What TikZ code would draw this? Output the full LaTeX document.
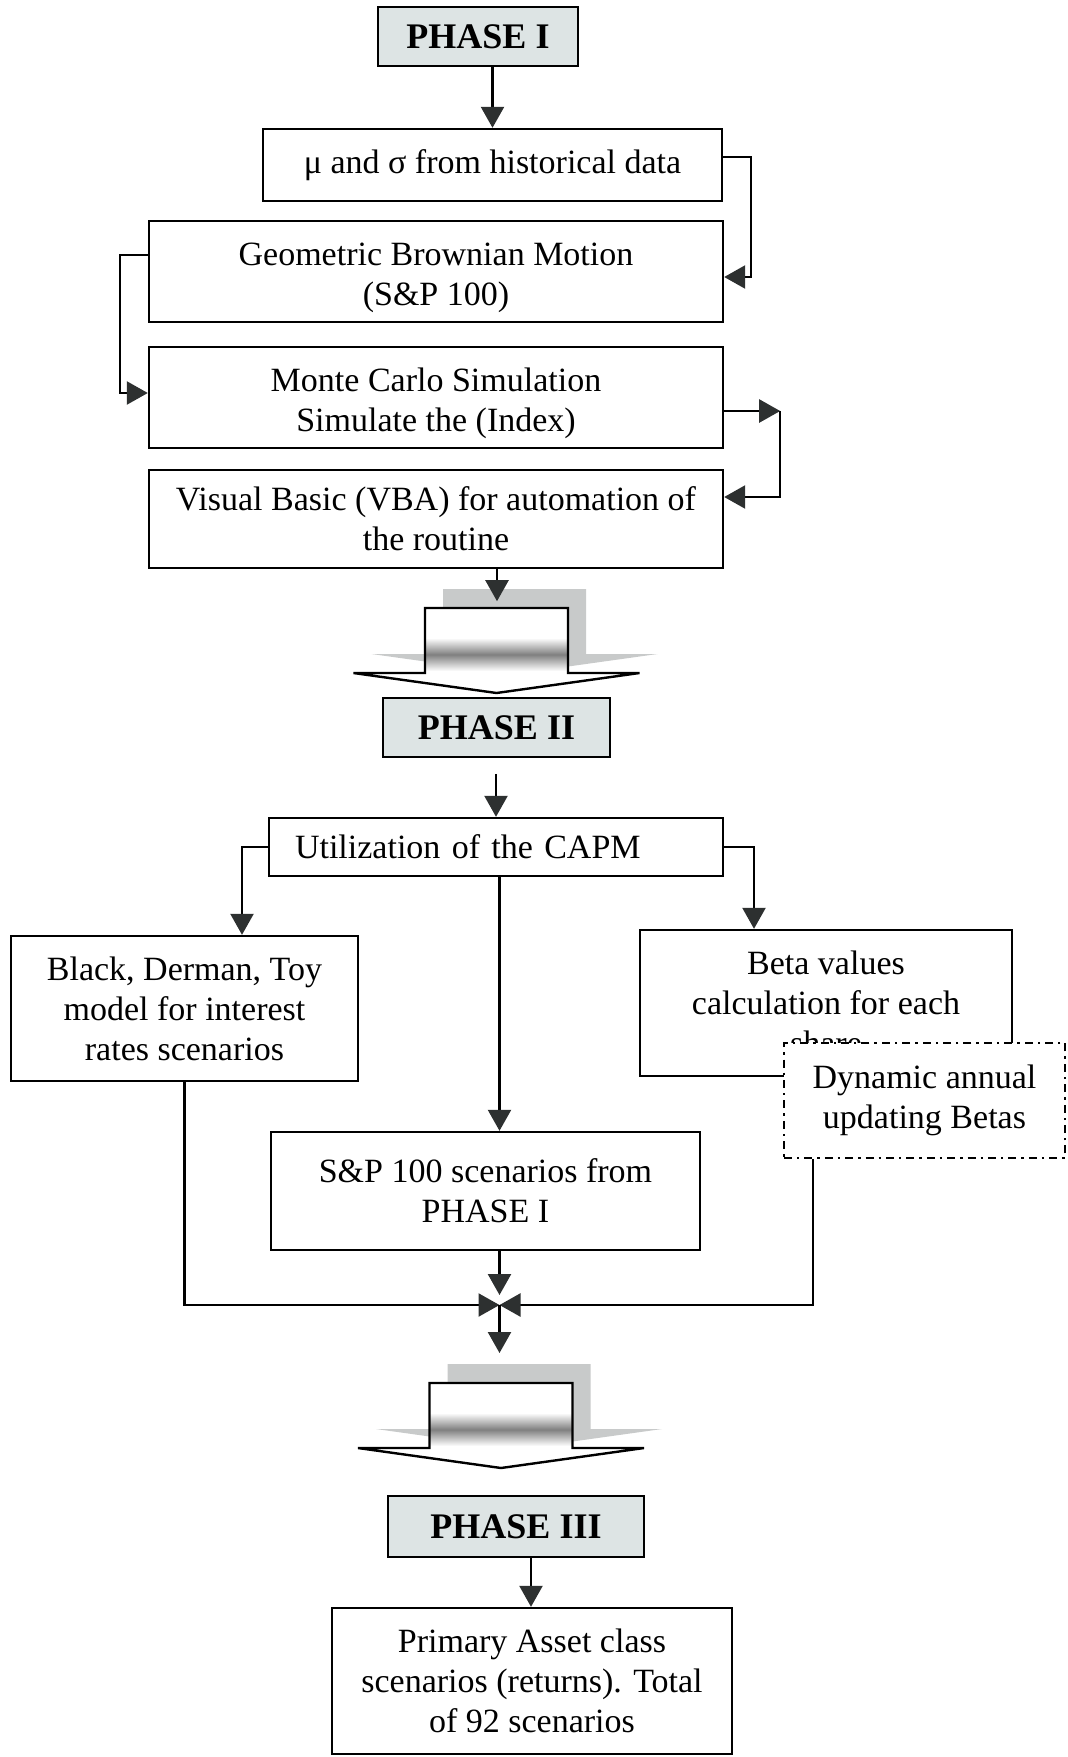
\documentclass[tikz,border=0pt]{standalone}
\usepackage{fontspec}
\setmainfont{Liberation Serif}
\usetikzlibrary{arrows.meta,calc}
\definecolor{phasefill}{RGB}{221,228,228}
\definecolor{shadowgray}{RGB}{200,202,202}
\definecolor{headgray}{RGB}{45,48,48}
% lowers a line of text inside its box without changing the box size
\newcommand{\lowerln}[1]{\raisebox{-3pt}[\height][\depth]{#1}}
\tikzset{
  % wide block arrow with an offset drop shadow, placed by the centre of its top edge
  blockarrow/.pic={
    \fill[shadowgray] (-53.5,-19) -- (89.5,-19) -- (89.5,46) -- (161,46) -- (18,66) -- (-125,46) -- (-53.5,46) -- cycle;
    \fill[white] (-71.5,0) -- (71.5,0) -- (71.5,65) -- (143,65) -- (0,85) -- (-143,65) -- (-71.5,65) -- cycle;
    \shade[top color=white,bottom color=white,middle color=black!50] (-71.5,30) rectangle (71.5,63);
    \draw[line join=miter] (-71.5,0) -- (71.5,0) -- (71.5,65) -- (143,65) -- (0,85) -- (-143,65) -- (-71.5,65) -- cycle;
  }
}
\begin{document}
\begin{tikzpicture}[x=0.5pt,y=-0.5pt,line width=1.2pt,
  box/.style={draw,rectangle,inner sep=0pt,align=center,font=\fontsize{17}{20}\selectfont},
  phasebox/.style={draw,rectangle,fill=phasefill,inner sep=0pt,font=\bfseries\fontsize{18}{21}\selectfont},
  dynbox/.style={box,fill=white,dash pattern=on 4pt off 2.5pt on 1.2pt off 2.5pt},
  conn/.style={-{Triangle[length=10.5pt,width=11.5pt,color=headgray]}}]
\useasboundingbox (0,0) rectangle (1067,1757);

% phase I
\node[phasebox,minimum width=100pt,minimum height=29.5pt] (P1) at (478,36.5) {PHASE I};
\node[box,minimum width=229.5pt,minimum height=36pt] (mu) at (492.5,165) {μ and σ from historical data};
\node[box,minimum width=287pt,minimum height=50.5pt] (gbm) at (436,271.5) {\lowerln{Geometric Brownian Motion}\\\lowerln{(S\&P 100)}};
\node[box,minimum width=287pt,minimum height=50.5pt] (mc) at (436,397.5) {\lowerln{Monte Carlo Simulation}\\\lowerln{Simulate the (Index)}};
\node[box,minimum width=287pt,minimum height=49pt] (vba) at (436,519) {Visual Basic (VBA) for automation of\\the routine};

\draw[conn] (P1.south -| mu.north) -- (mu.north);
\draw[conn] ($(mu.east)+(0,-8)$) -- ++(28,0) |- ($(gbm.east)+(0,5.5)$);
\draw[conn] ($(gbm.west)+(0,-16.5)$) -- ++(-28,0) |- ($(mc.west)+(0,-4.5)$);
\draw[conn] ($(mc.east)+(0,13.5)$) -- ++(56,0) coordinate (mcR);
\draw[conn] (mcR) |- ($(vba.east)+(0,-22)$);

% transition to phase II
\pic at (496.5,608) {blockarrow};
\draw[conn] ($(vba.south)+(61,0)$) -- ++(0,32);

% phase II
\node[phasebox,minimum width=113.5pt,minimum height=29.5pt] (P2) at (496.5,727.5) {PHASE II};
\node[box,minimum height=29pt,text width=201pt,inner xsep=13pt,align=left] (capm) at (496,847) {Utilization of the CAPM};
\node[box,minimum width=173.5pt,minimum height=72.5pt] (bdt) at (184.5,1008.5) {Black, Derman, Toy\\model for interest\\rates scenarios};
\node[box,minimum width=214.5pt,minimum height=59pt] (sp) at (485.5,1191) {S\&P 100 scenarios from\\PHASE I};
\node[box,minimum width=186pt,minimum height=73pt] (beta) at (826,1003) {Beta values\\calculation for each\\share};
\node[dynbox,minimum width=140.5pt,minimum height=57.5pt] (dyn) at (924.5,1100.5) {Dynamic annual\\updating Betas};
\coordinate (M) at (499.5,1305);

\draw[conn] ($(capm.north)+(0,-43)$) -- (capm.north);
\draw[conn] (capm.west) -| ($(bdt.north)+(57.5,0)$);
\draw[conn] (capm.east) -| ($(beta.north)+(-72,0)$);
\draw[conn] ($(capm.south)+(3.5,0)$) -- ($(sp.north)+(14,0)$);
\draw[conn] ($(sp.south)+(14,0)$) -- ($(M)+(0,-10)$);
\draw[conn] (bdt.south) |- (M);
\draw[conn] ($(dyn.south)+(-111.5,0)$) |- (M);

% transition to phase III
\pic at (501,1383) {blockarrow};
\draw[conn] (M) -- ++(0,48);

% phase III
\node[phasebox,minimum width=128pt,minimum height=30.5pt] (P3) at (516,1526.5) {PHASE III};
\node[box,minimum width=200pt,minimum height=73pt] (prim) at (532,1681) {Primary Asset class\\scenarios (returns). Total\\of 92 scenarios};
\draw[conn] ($(P3.south)+(15,0)$) -- ($(prim.north)+(-1,0)$);
\end{tikzpicture}
\end{document}
